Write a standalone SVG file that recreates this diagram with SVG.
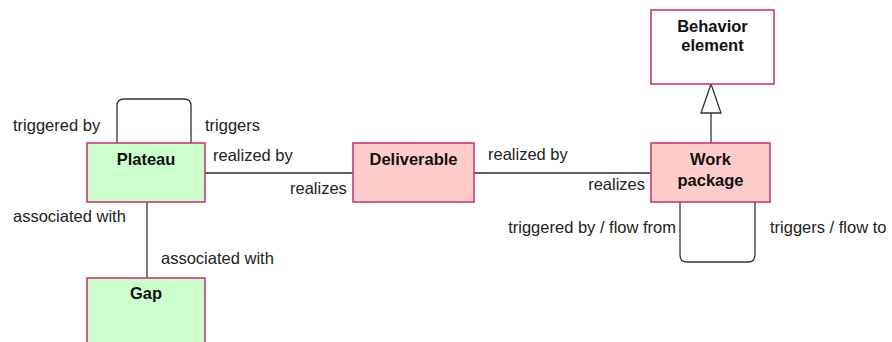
<svg xmlns="http://www.w3.org/2000/svg" width="892" height="342" viewBox="0 0 892 342">
  <defs>
    <style>
      .node { stroke: #c8387a; stroke-width: 1.6; }
      .green { fill: #ccffcc; }
      .pink { fill: #ffcccc; }
      .white { fill: #ffffff; }
      .title { font-family: "Liberation Sans", Arial, sans-serif; font-size: 16.5px; font-weight: bold; fill: #111; text-anchor: middle; }
      .lbl { font-family: "Liberation Sans", Arial, sans-serif; font-size: 16.5px; fill: #222; }
      .conn { fill: none; stroke: #333; stroke-width: 1.3; }
    </style>
    <!-- hollow triangle for generalization -->
    <marker id="gen" viewBox="0 0 31 22" refX="30" refY="11" markerWidth="31" markerHeight="22" markerUnits="userSpaceOnUse" orient="auto">
      <path d="M30 11 L1 1 L1 21 Z" fill="#fff" stroke="#333" stroke-width="1.3"/>
    </marker>
  </defs>

  <!-- connectors -->
  <g id="connectors">
    <!-- Plateau self-loop -->
    <path class="conn" d="M117 143 V106 Q117 99 124 99 H184 Q191 99 191 106 V143"/>
    <!-- Plateau - Deliverable -->
    <line class="conn" x1="205" y1="173" x2="353" y2="173"/>
    <!-- Deliverable - Work package -->
    <line class="conn" x1="474" y1="173" x2="651" y2="173"/>
    <!-- Plateau - Gap -->
    <line class="conn" x1="147" y1="202" x2="147" y2="278"/>
    <!-- Work package specialises Behavior element -->
    <line class="conn" x1="711" y1="143" x2="711" y2="84" marker-end="url(#gen)"/>
    <!-- Work package self-loop -->
    <path class="conn" d="M680 202 V255 Q680 262 687 262 H748 Q755 262 755 255 V202"/>
  </g>

  <!-- connector labels -->
  <g id="labels">
    <text class="lbl" x="13" y="131">triggered by</text>
    <text class="lbl" x="205" y="131">triggers</text>
    <text class="lbl" x="213" y="161">realized by</text>
    <text class="lbl" x="290" y="194">realizes</text>
    <text class="lbl" x="488" y="160">realized by</text>
    <text class="lbl" x="645" y="190" text-anchor="end">realizes</text>
    <text class="lbl" x="13" y="222">associated with</text>
    <text class="lbl" x="161" y="264">associated with</text>
    <text class="lbl" x="676" y="233" text-anchor="end">triggered by / flow from</text>
    <text class="lbl" x="770" y="233">triggers / flow to</text>
  </g>

  <g id="behavior-element">
    <rect class="node white" x="651" y="10" width="123" height="74"/>
    <text class="title" x="712.5" y="32">Behavior</text>
    <text class="title" x="712.5" y="51">element</text>
  </g>

  <g id="plateau">
    <rect class="node green" x="87" y="143" width="118" height="59"/>
    <text class="title" x="146" y="165">Plateau</text>
  </g>

  <g id="deliverable">
    <rect class="node pink" x="353" y="143" width="121" height="59"/>
    <text class="title" x="413.5" y="165">Deliverable</text>
  </g>

  <g id="work-package">
    <rect class="node pink" x="651" y="143" width="119" height="59"/>
    <text class="title" x="710.5" y="165">Work</text>
    <text class="title" x="710.5" y="186">package</text>
  </g>

  <g id="gap">
    <rect class="node green" x="87" y="278" width="118" height="70"/>
    <text class="title" x="146" y="299">Gap</text>
  </g>
</svg>
